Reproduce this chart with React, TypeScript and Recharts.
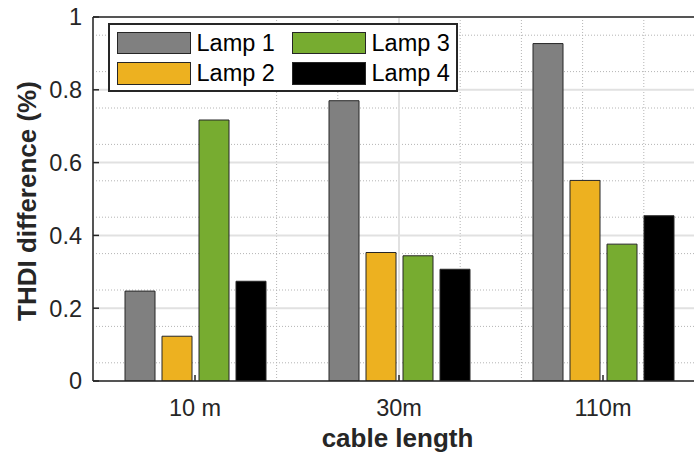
import { BarChart, Bar, XAxis, YAxis, CartesianGrid, Legend, Label } from "recharts";

const categories = ["10 m", "30m", "110m"];
const lamp1 = [0.247, 0.77, 0.927];
const lamp2 = [0.123, 0.353, 0.551];
const lamp3 = [0.717, 0.344, 0.376];
const lamp4 = [0.274, 0.307, 0.454];

const yTicks = [0, 0.2, 0.4, 0.6, 0.8, 1];
const yMinorTicks = [0.05, 0.1, 0.15, 0.25, 0.3, 0.35, 0.45, 0.5, 0.55, 0.65, 0.7, 0.75, 0.85, 0.9, 0.95];
const xMajorTicks = [1, 2, 3];
const xMinorTicks = [0.6, 0.8, 1.2, 1.4, 1.6, 1.8, 2.2, 2.4, 2.6, 2.8, 3.2, 3.4];

const series = [
  { key: "lamp1", name: "Lamp 1", color: "#808080", values: lamp1 },
  { key: "lamp2", name: "Lamp 2", color: "#EDB120", values: lamp2 },
  { key: "lamp3", name: "Lamp 3", color: "#77AC30", values: lamp3 },
  { key: "lamp4", name: "Lamp 4", color: "#000000", values: lamp4 },
];

const data = categories.map((cable, i) => {
  const row: Record<string, string | number> = { cable };
  series.forEach((s) => (row[s.key] = s.values[i]));
  return row;
});

const FONT = "'Liberation Sans', Arial, Helvetica, sans-serif";
const INK = "#262626";

function LegendBox() {
  return (
    <div
      style={{
        boxSizing: "border-box",
        width: 350,
        height: 69,
        border: `2px solid ${INK}`,
        background: "#fff",
        padding: "6.5px 0 0 6.5px",
        display: "grid",
        gridTemplateRows: "22.6px 22.6px",
        gridTemplateColumns: "175px 160px",
        gridAutoFlow: "column",
        rowGap: 8,
        fontFamily: FONT,
        fontSize: 23.5,
        color: "#000",
      }}
    >
      {series.map((s) => (
        <div key={s.key} style={{ display: "flex", alignItems: "center", height: 22.6 }}>
          <span
            style={{
              boxSizing: "border-box",
              width: 74,
              height: 22.6,
              background: s.color,
              border: `1px solid ${INK}`,
              marginRight: 6,
            }}
          />
          <span style={{ lineHeight: "22.6px" }}>{s.name}</span>
        </div>
      ))}
    </div>
  );
}

function YTitle({ viewBox }: any) {
  const x = (viewBox?.x ?? 33) + 3;
  const y = (viewBox?.y ?? 17) + (viewBox?.height ?? 364) / 2 + 2;
  return (
    <text
      x={x}
      y={y}
      transform={`rotate(-90, ${x}, ${y})`}
      textAnchor="middle"
      fontFamily={FONT}
      fontWeight="bold"
      fontSize={26}
      fill={INK}
    >
      THDI difference (%)
    </text>
  );
}

function XTitle({ viewBox }: any) {
  const x = (viewBox?.x ?? 93) + (viewBox?.width ?? 612) / 2 - 1.5;
  return (
    <text x={x} y={447} textAnchor="middle" fontFamily={FONT} fontWeight="bold" fontSize={26} fill={INK}>
      cable length
    </text>
  );
}

export default function App() {
  const tickStyle = { fontSize: 23.5, fill: INK, fontFamily: FONT };
  const axisStroke = { stroke: INK, strokeWidth: 1.5 };
  return (
    <div style={{ position: "absolute", left: 0, top: 0, width: 694, height: 459, overflow: "hidden", background: "#fff" }}>
      <BarChart
        width={720}
        height={459}
        data={data}
        margin={{ top: 16, right: 15, bottom: 48, left: 33 }}
        barSize={30}
        barGap={7}
      >
        {/* hidden numeric axes that carry the grid positions */}
        <XAxis xAxisId="minor" type="number" domain={[0.5, 3.5]} ticks={xMinorTicks} allowDataOverflow hide />
        <XAxis xAxisId="major" type="number" domain={[0.5, 3.5]} ticks={xMajorTicks} allowDataOverflow hide />
        <YAxis yAxisId="minor" type="number" domain={[0, 1]} ticks={yMinorTicks} allowDataOverflow hide />

        <CartesianGrid xAxisId="minor" yAxisId="minor" stroke="#b4b4b4" strokeWidth={1} strokeDasharray="1 2" />
        <CartesianGrid xAxisId="major" stroke="#e1e1e1" strokeWidth={2} />

        <XAxis
          dataKey="cable"
          height={30}
          tick={tickStyle}
          tickSize={-6}
          tickMargin={24}
          axisLine={axisStroke}
          tickLine={axisStroke}
          interval={0}
        >
          <Label content={<XTitle />} />
        </XAxis>
        <XAxis
          xAxisId="top"
          dataKey="cable"
          orientation="top"
          height={1}
          tick={false}
          tickSize={-6}
          axisLine={axisStroke}
          tickLine={axisStroke}
          interval={0}
        />
        <YAxis
          width={60}
          domain={[0, 1]}
          ticks={yTicks}
          allowDataOverflow
          tick={tickStyle}
          tickSize={-6}
          tickMargin={17}
          axisLine={axisStroke}
          tickLine={axisStroke}
        >
          <Label content={<YTitle />} />
        </YAxis>

        {series.map((s) => (
          <Bar
            key={s.key}
            dataKey={s.key}
            name={s.name}
            fill={s.color}
            stroke={INK}
            strokeWidth={1}
            isAnimationActive={false}
          />
        ))}

        <Legend
          layout="vertical"
          align="center"
          verticalAlign="middle"
          wrapperStyle={{ top: 23, left: 108, width: 350, height: 69 }}
          content={<LegendBox />}
        />
      </BarChart>
    </div>
  );
}
